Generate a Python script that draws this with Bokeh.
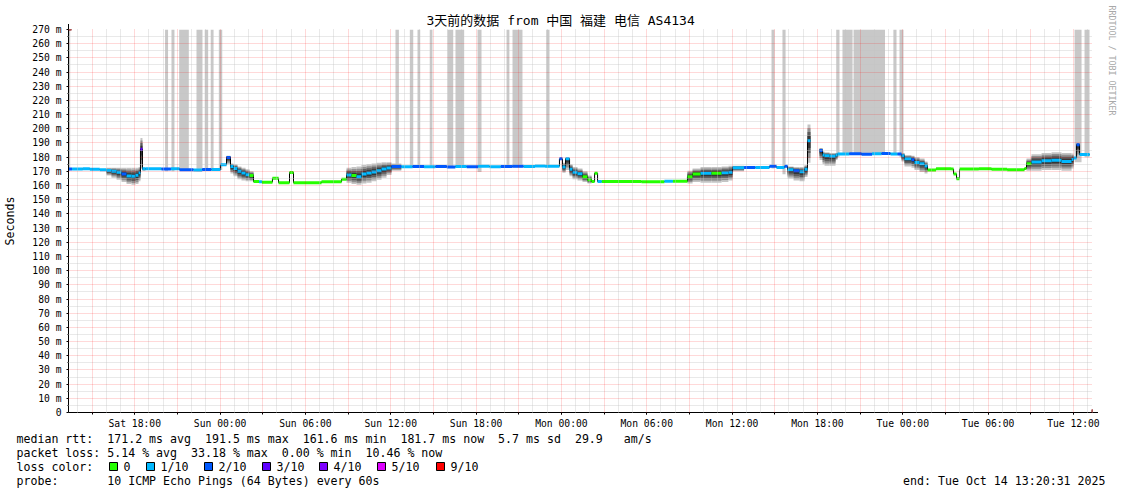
import calendar
import datetime as dt
import math

from bokeh.plotting import figure
from bokeh.layouts import column
from bokeh.models import (Range1d, FixedTicker, DatetimeTickFormatter, Title,
                          Arrow, NormalHead, Grid)
from bokeh.embed import file_html
from bokeh.resources import INLINE
from bokeh.core.properties import value

# ---------------------------------------------------------------- data
TITLE = "3天前的数据 from 中国 福建 电信 AS4134"
START = "2025-10-11 13:20:31"
END = "2025-10-14 13:20:31"

# step start times (hours after START), median rtt (ms), loss level index, smoke range
t_hours = [0.00, 0.25, 1.00, 1.50, 2.20, 2.67, 3.02, 3.38, 3.73, 4.08, 4.43, 4.71, 4.92, 5.06, 5.20, 5.41,
           6.54, 7.20, 7.81, 8.79, 9.40, 10.05, 10.69, 11.11, 11.39, 11.60, 11.88, 12.16, 12.45, 12.73,
           13.01, 13.40, 13.60, 14.34, 14.77, 15.54, 15.82, 17.79, 19.20, 19.55, 19.90, 20.25, 20.60,
           20.95, 21.31, 21.66, 22.01, 22.36, 22.71, 23.40, 24.20, 25.00, 25.80, 26.60, 27.20, 28.00,
           28.80, 29.60, 30.40, 31.20, 32.00, 32.80, 33.50, 34.52, 34.73, 34.95, 35.23, 35.44, 35.79,
           36.14, 36.49, 36.78, 36.99, 37.20, 37.50, 40.29, 41.90, 42.50, 43.52, 43.88, 44.44, 45.21,
           45.92, 46.40, 46.69, 47.50, 48.30, 49.29, 49.78, 50.35, 50.56, 50.98, 51.40, 51.75, 51.96,
           52.17, 52.81, 53.02, 53.16, 53.51, 53.93, 54.07, 54.90, 55.76, 56.50, 57.17, 57.80, 58.29,
           58.57, 58.78, 59.27, 59.48, 59.84, 60.19, 60.40, 61.00, 62.09, 62.23, 62.44, 62.65, 64.00,
           64.90, 66.00, 67.22, 67.36, 67.71, 68.42, 69.12, 69.82, 70.53, 70.67, 70.88, 71.09]
T_LAST = 71.80

nan = float("nan")
median_rtt = [171.6, 171.6, 171.8, 171.4, 171.2, 170.6, 170.0, 169.3, 168.2, 166.8, 166.5, 167.3, 169.0, 185.5, 171.8, 171.8,
              171.6, 171.8, 171.2, 171.0, 171.3, 171.3, 174.6, 179.8, 173.5, 172.0, 170.0, 168.8, 167.6, 167.0,
              162.8, 162.6, 162.4, 165.2, 162.0, 169.2, 162.0, 162.6, 164.5, 167.4, 167.0, 166.2, 168.2,
              168.8, 169.6, 170.4, 171.6, 172.4, 173.4, 173.2, 173.5, 173.2, 173.4, 173.0, 173.5, 173.2,
              173.6, 173.3, 173.4, 173.6, 173.5, 173.8, 173.6, 178.8, 173.0, 178.8, 171.5, 169.4, 168.3,
              166.2, 164.0, 162.8, 168.7, 162.8, 162.8, 162.6, 163.0, 163.0, 166.2, 168.2, 168.6, 168.6,
              169.0, 169.4, 172.6, 172.8, 172.8, 173.6, 172.8, 173.6, 171.2, 170.4, 169.8, 171.5, 191.5,
              nan, 184.7, 181.5, 181.0, 180.6, 181.5, 182.3, 182.4, 182.0, 182.4, 182.6, 182.2, 182.2,
              181.0, 178.8, 178.2, 176.2, 175.4, 173.8, 171.0, 171.8, 171.6, 168.2, 164.7, 171.6, 171.8,
              171.4, 171.2, 172.0, 175.3, 176.6, 177.4, 177.8, 177.0, 178.4, 179.5, 188.7, 181.8]

loss_level = [2, 1, 1, 1, 1, 1, 1, 1, 2, 1, 1, 1, 1, 3, 1, 1,
              2, 1, 2, 1, 2, 1, 1, 2, 1, 1, 1, 1, 1, 0,
              0, 1, 0, 0, 0, 0, 0, 0, 0, 1, 0, 1, 1,
              1, 1, 1, 1, 1, 2, 1, 2, 1, 2, 2, 1, 2,
              1, 1, 2, 2, 1, 1, 1, 2, 1, 1, 1, 1, 1,
              0, 0, 0, 0, 1, 0, 0, 1, 0, 0, 0, 1, 0,
              1, 1, 1, 2, 1, 2, 1, 2, 1, 2, 1, 1, 1,
              0, 2, 1, 1, 1, 1, 1, 2, 2, 1, 2, 1, 2,
              1, 1, 2, 1, 1, 1, 0, 0, 0, 0, 0, 0, 0,
              0, 0, 0, 0, 1, 1, 1, 1, 1, 1, 2, 1]

N = None
smoke_lo = [N, N, N, N, N, 167.0, 165.5, 164.0, 162.5, 161.0, 160.5, 161.0, 163.0, 172.0, 170.5, N,
            N, N, N, N, N, N, N, 175.0, 168.5, 166.5, 164.5, 163.5, 163.0, 163.0,
            N, N, N, N, N, N, N, N, N, 162.0, 161.0, 160.5, 161.5,
            162.0, 163.0, 164.0, 165.5, 167.5, 170.5, N, N, N, N, N, N, N,
            N, N, N, N, N, N, N, N, 169.0, 171.0, 166.5, 164.5, 163.5,
            162.5, 161.5, N, N, N, N, N, N, N, 161.5, 162.5, 162.0, 162.0,
            162.5, 163.5, 170.0, N, N, N, N, N, 165.0, 163.5, 163.0, 166.0, 176.0,
            N, 178.0, 175.0, 174.0, 174.0, 178.0, N, N, N, N, N, N, N,
            177.0, 173.5, 172.5, 171.0, 169.5, 168.5, N, N, N, N, N, N, N,
            N, N, N, 170.5, 170.5, 171.0, 171.0, 170.5, 172.0, N, 180.0, N]
smoke_hi = [N, N, N, N, N, 172.5, 172.5, 172.5, 172.5, 172.5, 172.5, 172.5, 173.0, 193.5, 172.5, N,
            N, N, N, N, N, N, N, 181.0, 175.5, 175.0, 173.5, 172.5, 171.5, 170.0,
            N, N, N, N, N, N, N, N, N, 172.5, 173.0, 173.5, 174.5,
            175.0, 175.5, 176.0, 176.5, 176.5, 175.5, N, N, N, N, N, N, N,
            N, N, N, N, N, N, N, N, 176.0, 179.5, 175.0, 173.0, 172.0,
            170.0, 167.0, N, N, N, N, N, N, N, 170.5, 172.0, 173.0, 173.0,
            173.5, 174.0, 174.0, N, N, N, N, N, 173.5, 173.0, 173.0, 174.5, 203.0,
            N, 186.5, 184.0, 183.5, 183.0, 183.0, N, N, N, N, N, N, N,
            183.0, 181.5, 181.0, 180.0, 179.0, 177.0, N, N, N, N, N, N, N,
            N, N, N, 179.0, 182.0, 183.0, 183.5, 183.0, 182.5, N, 190.0, N]

# periods with heavy loss (grey full-height bars): start, end (hours), lower edge (ms)
loss_bar_start = [0.00, 6.79, 7.24, 7.78, 9.00, 9.58, 10.00, 10.57, 22.99, 24.00, 24.54, 25.40, 26.65, 27.21,
                  28.76, 30.80, 31.22, 33.59, 49.43, 50.20, 53.98, 54.42, 55.20, 58.00, 58.43, 70.74, 71.44]
loss_bar_end = [0.12, 7.00, 7.45, 8.46, 9.42, 9.82, 10.20, 10.81, 23.23, 24.24, 24.73, 25.59, 27.05, 27.82,
                29.04, 31.00, 31.92, 33.82, 49.64, 50.42, 54.21, 55.13, 57.41, 58.22, 58.71, 71.23, 71.79]
loss_bar_bottom = [170.5, 170.0, 170.0, 170.5, 170.0, 170.5, 170.5, 171.0, 172.0, 172.5, 172.5, 172.5, 172.5, 172.5,
                   169.5, 172.5, 172.5, 172.5, 172.0, 168.0, 180.0, 181.5, 181.5, 181.5, 180.0, 176.5, 180.0]

LOSS_COLORS = ["#26ff00", "#00b8ff", "#0059ff", "#5e00ff", "#7e00ff", "#dd00ff", "#ff0000"]
LOSS_LABELS = ["0", "1/10", "2/10", "3/10", "4/10", "5/10", "9/10"]

TICK_TIMES = ["2025-10-11 18:00", "2025-10-12 00:00", "2025-10-12 06:00", "2025-10-12 12:00",
              "2025-10-12 18:00", "2025-10-13 00:00", "2025-10-13 06:00", "2025-10-13 12:00",
              "2025-10-13 18:00", "2025-10-14 00:00", "2025-10-14 06:00", "2025-10-14 12:00"]
Y_MAX = 270

LEGEND_RTT = "median rtt:  171.2 ms avg  191.5 ms max  161.6 ms min  181.7 ms now  5.7 ms sd  29.9   am/s"
LEGEND_LOSS = "packet loss: 5.14 % avg  33.18 % max  0.00 % min  10.46 % now"
LEGEND_COLOR = "loss color:"
LEGEND_PROBE = "probe:       10 ICMP Echo Pings (64 Bytes) every 60s"
LEGEND_END = "end: Tue Oct 14 13:20:31 2025"
Y_LABEL = "Seconds"
WATERMARK = "RRDTOOL / TOBI OETIKER"

# ---------------------------------------------------------------- helpers
def ms(s, fmt="%Y-%m-%d %H:%M:%S"):
    return calendar.timegm(dt.datetime.strptime(s, fmt).timetuple()) * 1000.0

def keep_spaces(s):
    return s.replace(" ", "\u00a0")

T0 = ms(START)
T1 = ms(END)
H = 3600000.0

def th(h):
    return T0 + h * H

# picture geometry
PW, PH = 1121, 494
FL, FR, FT, FB = 67, 1092, 29, 412      # plotting frame
SPLIT = 432                             # main chart / legend strip boundary

MONO = "DejaVu Sans Mono"

p = figure(width=PW, height=SPLIT, x_axis_type="datetime", output_backend="svg",
           toolbar_location=None, title_location=None,
           x_range=Range1d(T0, T1), y_range=Range1d(0, Y_MAX),
           min_border_left=FL, min_border_right=PW - FR,
           min_border_top=FT, min_border_bottom=SPLIT - FB)
p.outline_line_color = None
p.background_fill_color = "white"
p.border_fill_color = "white"

# ---------------------------------------------------------------- loss bars
p.quad(left=[th(a) for a in loss_bar_start], right=[th(b) for b in loss_bar_end],
       bottom=loss_bar_bottom, top=[Y_MAX] * len(loss_bar_start),
       fill_color="#c8c8c8", line_color=None)

# ---------------------------------------------------------------- smoke
t_next = t_hours[1:] + [T_LAST]
rows = [(a, b, m, lo, hi) for a, b, m, lo, hi in zip(t_hours, t_next, median_rtt, smoke_lo, smoke_hi)
        if lo is not None and not math.isnan(m)]
for f, col in zip([1.0, 0.78, 0.55, 0.32], ["#c4c4c4", "#909090", "#5e5e5e", "#363636"]):
    p.quad(left=[th(r[0]) for r in rows], right=[th(r[1]) for r in rows],
           bottom=[r[2] - (r[2] - r[3]) * f for r in rows],
           top=[r[2] + (r[4] - r[2]) * f for r in rows],
           fill_color=col, line_color=None)

# ---------------------------------------------------------------- median
xs, ys = [], []
for a, b, m in zip(t_hours, t_next, median_rtt):
    if math.isnan(m):
        xs.append(th(a)); ys.append(nan)
        continue
    xs += [th(a), th(b)]
    ys += [m, m]
p.line(xs, ys, line_color="black", line_width=1)

seg = [(a, b, m, c) for a, b, m, c in zip(t_hours, t_next, median_rtt, loss_level) if not math.isnan(m)]
p.segment(x0=[th(s[0]) for s in seg], x1=[th(s[1]) for s in seg],
          y0=[s[2] for s in seg], y1=[s[2] for s in seg],
          line_color=[LOSS_COLORS[s[3]] for s in seg], line_width=3, line_cap="butt")

# ---------------------------------------------------------------- grid
hour_ticks = [T0 - (T0 % H) + k * H for k in range(1, 74)]
hour_ticks = [x for x in hour_ticks if T0 < x < T1]
three_h = [x for x in hour_ticks if int(round(x / H)) % 3 == 0]
one_h = [x for x in hour_ticks if int(round(x / H)) % 3 != 0]

p.xgrid.visible = False
p.ygrid.visible = False
minor_kw = dict(grid_line_color="#c4c4c4", grid_line_alpha=0.75, grid_line_dash="1 1", level="annotation")
major_kw = dict(grid_line_color="#ff0000", grid_line_alpha=0.3, grid_line_dash="1 1", level="annotation")
p.add_layout(Grid(dimension=0, ticker=FixedTicker(ticks=one_h), **minor_kw))
p.add_layout(Grid(dimension=1, ticker=FixedTicker(ticks=list(range(5, Y_MAX, 10))), **minor_kw))
p.add_layout(Grid(dimension=0, ticker=FixedTicker(ticks=three_h), **major_kw))
p.add_layout(Grid(dimension=1, ticker=FixedTicker(ticks=list(range(10, Y_MAX + 1, 10))), **major_kw))

# ---------------------------------------------------------------- axes
label_ticks = [ms(s, "%Y-%m-%d %H:%M") for s in TICK_TIMES]
p.xaxis.ticker = FixedTicker(ticks=label_ticks, minor_ticks=three_h)
fmt = "%a %H:%M"
p.xaxis.formatter = DatetimeTickFormatter(microseconds=fmt, milliseconds=fmt, seconds=fmt, minsec=fmt,
                                          minutes=fmt, hourmin=fmt, hours=fmt, days=fmt, months=fmt,
                                          years=fmt, strip_leading_zeros=False)
p.yaxis.ticker = FixedTicker(ticks=list(range(0, Y_MAX + 1, 10)), minor_ticks=list(range(5, Y_MAX, 10)))
p.yaxis.major_label_overrides = {v: (f"{v} m" if v else "0") for v in range(0, Y_MAX + 1, 10)}
for ax in (p.xaxis, p.yaxis):
    ax.axis_line_color = "black"
    ax.major_tick_line_color = "black"
    ax.minor_tick_line_color = "black"
    ax.major_tick_in = 0
    ax.minor_tick_in = 0
    ax.major_tick_out = 2
    ax.minor_tick_out = 2
    ax.major_label_text_font = MONO
    ax.major_label_text_font_size = "9.7px"
    ax.major_label_text_color = "black"
p.xaxis.major_label_standoff = 3
p.yaxis.major_label_standoff = 5
p.yaxis.minor_tick_out = 1
p.yaxis.axis_label = Y_LABEL
p.yaxis.axis_label_text_font = MONO
p.yaxis.axis_label_text_font_size = "11.6px"
p.yaxis.axis_label_text_font_style = "normal"
p.yaxis.axis_label_text_color = "black"
p.yaxis.axis_label_standoff = 12

head_col = "#800000"
p.add_layout(Arrow(end=NormalHead(size=6, fill_color=head_col, line_color=head_col),
                   x_start=T0, y_start=Y_MAX, x_end=T0, y_end=Y_MAX + 5.5 * Y_MAX / (FB - FT),
                   line_color="black"))
p.add_layout(Arrow(end=NormalHead(size=6, fill_color=head_col, line_color=head_col),
                   x_start=T1, y_start=0, x_end=T1 + 5.5 * (T1 - T0) / (FR - FL), y_end=0,
                   line_color="black"))

# title and watermark as side-panel titles
p.add_layout(Title(text=TITLE, align="left", offset=358, vertical_align="bottom", standoff=3,
                   text_font="DejaVu Sans Mono, Noto Sans CJK SC", text_font_size="13px",
                   text_font_style="normal", text_color="black"), "above")
# spacer keeps the watermark away from the frame edge
p.add_layout(Title(text="\u00a0", standoff=0, text_font=MONO, text_font_size="10px",
                   text_color="white"), "right")
p.add_layout(Title(text=WATERMARK, align="left", offset=-24, vertical_align="middle", standoff=0,
                   text_font=MONO, text_font_size="8.3px", text_font_style="normal",
                   text_color="#a8a8a8"), "right")

# ---------------------------------------------------------------- legend strip (pixel coordinates)
lg = figure(width=PW, height=PH - SPLIT, output_backend="svg", toolbar_location=None,
            title_location=None, x_axis_location=None, y_axis_location=None,
            x_range=Range1d(0, PW), y_range=Range1d(PH, SPLIT),
            min_border=0, min_border_left=0, min_border_right=0, min_border_top=0, min_border_bottom=0)
try:
    lg.frame_align = False
    p.frame_align = False
except AttributeError:
    pass
lg.grid.visible = False
lg.outline_line_color = None
lg.background_fill_color = "white"
lg.border_fill_color = "white"

txt_kw = dict(text_font=value(MONO), text_font_size=value("11.6px"), text_baseline="middle",
              text_color="black")
lg.text(x=[16, 16, 16, 16], y=[438, 452, 466, 480],
        text=[keep_spaces(s) for s in (LEGEND_RTT, LEGEND_LOSS, LEGEND_COLOR, LEGEND_PROBE)], **txt_kw)
lg.text(x=[1105], y=[480], text=[keep_spaces(LEGEND_END)], text_align="right", **txt_kw)

sq_x = [109, 146, 204, 262, 319, 377, 436]
lg.quad(left=sq_x, right=[s + 8 for s in sq_x], top=[462] * len(sq_x), bottom=[470] * len(sq_x),
        fill_color=LOSS_COLORS, line_color="black", line_width=1)
lg.text(x=[s + 14 for s in sq_x], y=[466] * len(sq_x), text=LOSS_LABELS, **txt_kw)

layout = column(p, lg, spacing=0)
open("out.html", "w").write(file_html(layout, INLINE))
